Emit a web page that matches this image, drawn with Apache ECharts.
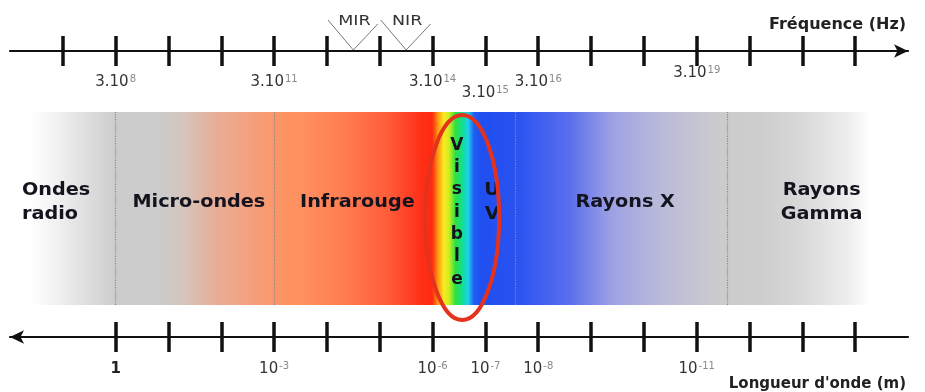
<!DOCTYPE html>
<html>
<head>
<meta charset="utf-8">
<script src="https://cdn.jsdelivr.net/npm/echarts@6/dist/echarts.min.js"></script>
<style>
html, body { margin: 0; padding: 0; background: #fff; }
#main { width: 925px; height: 392px; }
</style>
</head>
<body>
<div id="main"></div>
<script>
// axe des frequences : f = 3.10^e ; axe des longueurs d'onde : lambda = 10^(8-e)
var freqTicks = [7, 8, 9, 10, 11, 12, 13, 14, 15, 16, 17, 18, 19, 20, 21, 22];
var freqLabelAt = [8, 11, 14, 15, 16, 19];
var freqLabelExp = ['8', '11', '14', '15', '16', '19'];
var waveTicks = [8, 9, 10, 11, 12, 13, 14, 15, 16, 17, 18, 19, 20, 21, 22];
var waveLabelAt = [8, 11, 14, 15, 16, 19];
var waveLabelExp = ['0', '-3', '-6', '-7', '-8', '-11'];

// domaines du spectre (bornes en exposant de la frequence)
var regionNames = ['Ondes\nradio', 'Micro-ondes', 'Infrarouge', 'V\ni\ns\ni\nb\nl\ne', 'U\nV', 'Rayons X', 'Rayons\nGamma'];
var regionFrom = [6, 8, 11, 14, 14.77, 15.56, 19.58];
var regionTo = [8, 11, 14, 14.77, 15.56, 19.58, 23];
var separators = [8, 11, 15.56, 19.58];

var irNames = ['MIR', 'NIR'];
var irFrom = [12, 13];
var irTo = [13, 14];

var visibleMark = [13.86, 15.26];

// degrade de la bande
var bandStops = [6, 6.4, 6.94, 7.7, 8.02, 8.84, 9.31, 9.88, 10.54, 11.2, 11.5, 12.34, 13.19, 13.76, 13.99,
  14.08, 14.2, 14.31, 14.42, 14.56, 14.67, 14.77, 14.9, 15.56, 16.03, 16.6, 17.36, 18.12, 18.88, 19.44,
  20.2, 20.96, 21.9, 22.28, 23];
var bandColors = ['#ffffff', '#ffffff', '#efefef', '#d6d6d6', '#cccccc', '#cbcbcb', '#d6c4bc', '#e8ae96', '#f4a07e', '#fd9360',
  '#ff9060', '#ff7c50', '#ff5a38', '#ff3018', '#ff2a10',
  '#ff8a10', '#ffe820', '#c8f020', '#30e040', '#10e090', '#20d0f0', '#2060f0', '#1f4ff0', '#2a52f0', '#3f5ff0',
  '#5a6fec', '#9ca0e4', '#b5b6dc', '#c4c3d4', '#cbcbcc', '#cdcdcd', '#d8d8d8', '#efefef', '#ffffff', '#ffffff'];

var chart = echarts.init(document.getElementById('main'));
var inkColor = '#111';
var textFont = 'DejaVu Sans';

function bandData () {
  var d = [];
  for (var i = 0; i < bandStops.length - 1; i++) d.push([bandStops[i], bandStops[i + 1], 0]);
  return d;
}
function rangeData (from, to) {
  return from.map(function (v, i) { return [v, to[i], 0]; });
}

function freqLabel (v) {
  var i = freqLabelAt.indexOf(v);
  var k = v === 15 ? 'b' : (v === 19 ? 'c' : 'a');
  return '{' + k + '|3.10}{' + k + 's|' + freqLabelExp[i] + '}';
}
function waveLabel (v) {
  var i = waveLabelAt.indexOf(v);
  if (waveLabelExp[i] === '0') return '{o|1}';
  return '{m|10}{s|' + waveLabelExp[i] + '}';
}
function mainStyle (pad) {
  return { fontSize: 15, color: '#333', fontFamily: textFont, verticalAlign: 'top', lineHeight: 16, padding: [pad, 0, 0, 0] };
}
function supStyle (pad) {
  return { fontSize: 10, color: '#888', fontFamily: textFont, verticalAlign: 'top', lineHeight: 10, padding: [pad - 1, 0, 0, 1] };
}

// un axe = deux xAxis superposes (tick dehors + tick dedans)
function axisPair (pos, offset, ticks, arrow, label, name, nameStyle) {
  var base = {
    type: 'value', min: 6, max: 23, interval: 1, position: pos, offset: offset,
    splitLine: { show: false }
  };
  var outer = Object.assign({}, base, {
    axisLine: { show: true, onZero: false, symbol: arrow, symbolSize: [10, 14], lineStyle: { color: inkColor, width: 2.2 } },
    axisTick: { show: true, customValues: ticks, length: 15, lineStyle: { color: inkColor, width: 3.5 } },
    axisLabel: label,
    name: name,
    nameLocation: 'end',
    nameGap: -2,
    nameTextStyle: nameStyle
  });
  var inner = Object.assign({}, base, {
    axisLine: { show: false, onZero: false },
    axisTick: { show: true, inside: true, customValues: ticks, length: 15, lineStyle: { color: inkColor, width: 3.5 } },
    axisLabel: { show: false }
  });
  return [outer, inner];
}

var topAxes = axisPair('top', 61, freqTicks, ['none', 'arrow'], {
  inside: true, margin: 14, customValues: freqLabelAt, formatter: freqLabel,
  rich: { a: mainStyle(10), as: supStyle(10), b: mainStyle(21), bs: supStyle(21), c: mainStyle(1), cs: supStyle(1) }
}, 'Fréquence (Hz)', {
  color: '#222', fontSize: 16, fontWeight: 'bold', fontFamily: textFont,
  align: 'right', verticalAlign: 'bottom', padding: [0, 0, 18, 0]
});
var bottomAxes = axisPair('bottom', 32, waveTicks, ['arrow', 'none'], {
  margin: 25, customValues: waveLabelAt, formatter: waveLabel,
  rich: {
    o: { fontSize: 15, fontWeight: 'bold', color: '#222', fontFamily: textFont, verticalAlign: 'top', lineHeight: 16 },
    m: mainStyle(0),
    s: supStyle(0)
  }
}, 'Longueur d\'onde (m)', {
  color: '#222', fontSize: 15, fontWeight: 'bold', fontFamily: textFont,
  align: 'right', verticalAlign: 'top', padding: [40, 0, 0, 0]
});

var option = {
  animation: false,
  backgroundColor: '#fff',
  grid: { left: 10, right: 17, top: 112, bottom: 87 },
  xAxis: topAxes.concat(bottomAxes),
  yAxis: { type: 'value', min: 0, max: 1, show: false },
  series: [{
    // bande coloree
    type: 'custom',
    data: bandData(),
    encode: { x: [0, 1], y: 2 },
    renderItem: function (params, api) {
      var i = params.dataIndex;
      var p0 = api.coord([api.value(0), 1]);
      var p1 = api.coord([api.value(1), 0]);
      return {
        type: 'rect',
        shape: { x: p0[0], y: p0[1], width: p1[0] - p0[0] + 0.8, height: p1[1] - p0[1] },
        style: {
          fill: new echarts.graphic.LinearGradient(0, 0, 1, 0, [
            { offset: 0, color: bandColors[i] },
            { offset: 1, color: bandColors[i + 1] }
          ])
        }
      };
    },
    markLine: {
      silent: true,
      symbol: 'none',
      label: { show: false },
      lineStyle: { type: 'dotted', color: '#8a8a8a', width: 1.2 },
      data: separators.map(function (v) { return { xAxis: v }; })
    },
    z: 1
  }, {
    // noms des domaines
    type: 'custom',
    data: rangeData(regionFrom, regionTo),
    encode: { x: [0, 1], y: 2 },
    renderItem: function (params, api) {
      var name = regionNames[params.dataIndex];
      var vertical = name.split('\n').length > 2;
      var first = params.dataIndex === 0;
      var p = api.coord([(api.value(0) + api.value(1)) / 2, vertical ? 0.48 : 0.53]);
      var left = api.coord([api.value(0), 0])[0];
      return {
        type: 'text',
        x: first ? left + 12 : p[0] + (name === 'U\nV' ? -2 : 4),
        y: p[1],
        scaleX: vertical ? 1 : 1.13,
        style: {
          text: name,
          fill: '#14141f',
          fontSize: 17,
          fontWeight: 'bold',
          fontFamily: textFont,
          align: first ? 'left' : 'center',
          verticalAlign: 'middle',
          lineHeight: vertical ? 22.3 : 24,
          textShadowColor: 'rgba(255,255,255,0.9)',
          textShadowOffsetX: 1.5,
          textShadowOffsetY: 1.5
        }
      };
    },
    z: 3
  }, {
    // ellipse rouge autour du visible
    type: 'custom',
    data: [[visibleMark[0], visibleMark[1], 0]],
    encode: { x: [0, 1], y: 2 },
    renderItem: function (params, api) {
      var top = api.coord([api.value(0), 1]);
      var bot = api.coord([api.value(1), 0]);
      var y0 = top[1] + 3, y1 = bot[1] + 15;
      return {
        type: 'ellipse',
        shape: { cx: (top[0] + bot[0]) / 2, cy: (y0 + y1) / 2, rx: (bot[0] - top[0]) / 2, ry: (y1 - y0) / 2 },
        style: { fill: 'none', stroke: '#e5321c', lineWidth: 4 }
      };
    },
    z: 4
  }, {
    // MIR / NIR
    type: 'custom',
    data: rangeData(irFrom, irTo),
    encode: { x: [0, 1], y: 2 },
    renderItem: function (params, api) {
      var a = api.coord([api.value(0), 1]);
      var b = api.coord([api.value(1), 1]);
      var axisY = a[1] - 61;
      var mid = (a[0] + b[0]) / 2;
      return {
        type: 'group',
        children: [{
          type: 'polyline',
          shape: { points: [[a[0] + 1, axisY - 31], [mid, axisY - 1], [b[0] - 2, axisY - 27]] },
          style: { fill: 'none', stroke: '#777', lineWidth: 1 }
        }, {
          type: 'text',
          x: mid + 1,
          y: axisY - 30,
          scaleX: 1.25,
          style: {
            text: irNames[params.dataIndex], fill: '#333', fontSize: 14, fontFamily: textFont,
            align: 'center', verticalAlign: 'middle'
          }
        }]
      };
    },
    z: 4
  }]
};
chart.setOption(option);
</script>
</body>
</html>
